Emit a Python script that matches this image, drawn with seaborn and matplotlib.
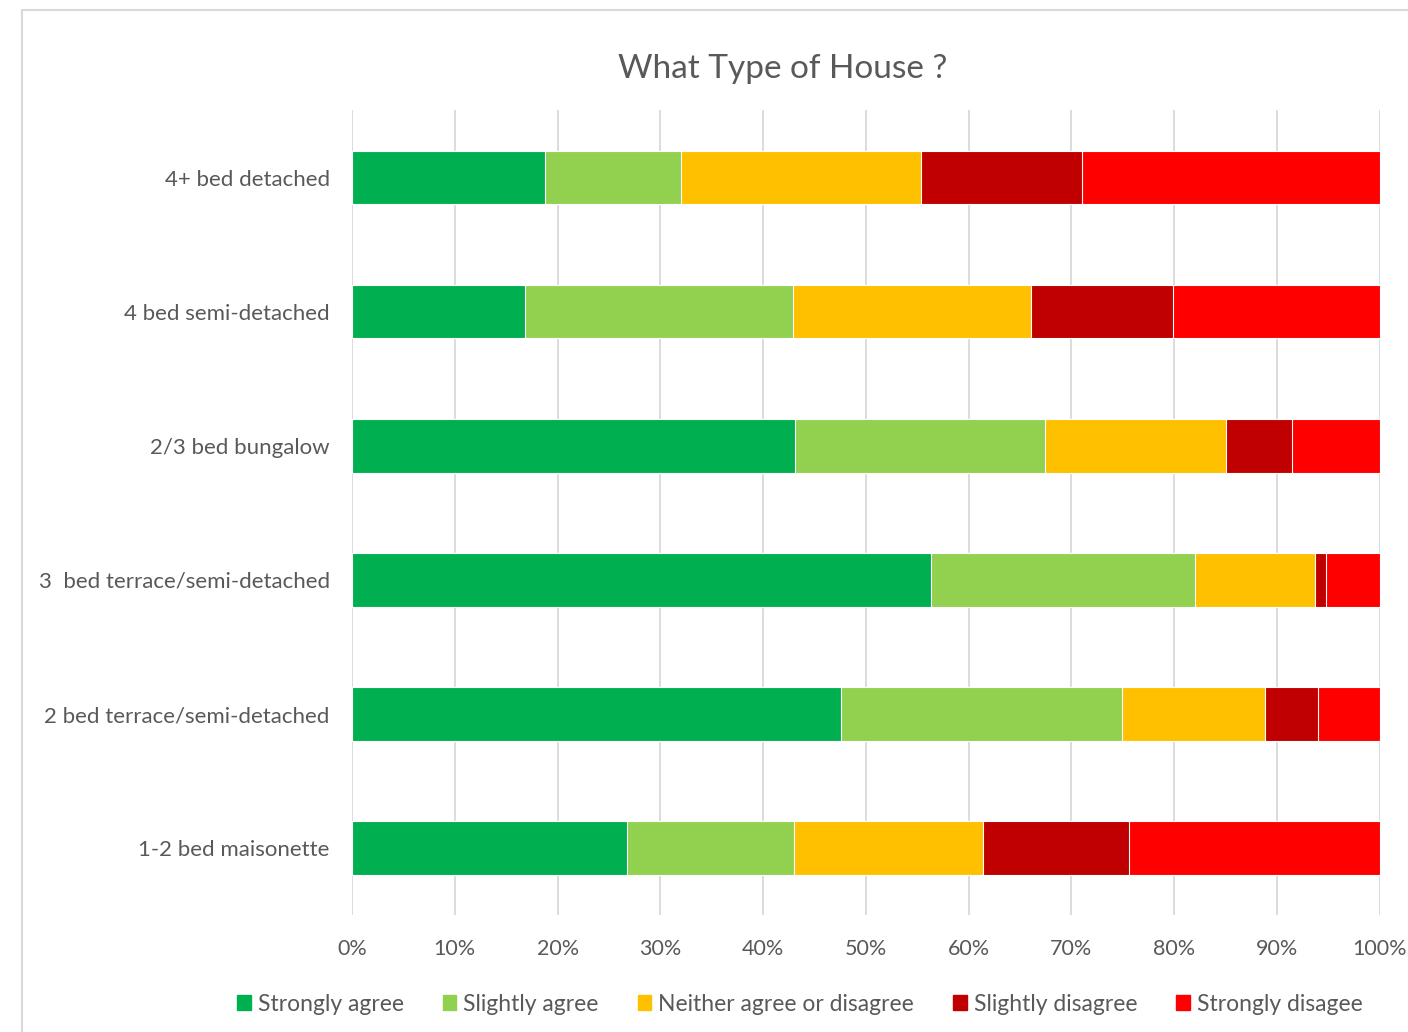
import pandas as pd
import numpy as np
import matplotlib
matplotlib.use("Agg")
import matplotlib.pyplot as plt
import matplotlib.patches as mpatches
import seaborn as sns

# Data (percent of responses)
house_types = ["4+ bed detached", "4 bed semi-detached", "2/3 bed bungalow",
               "3  bed terrace/semi-detached", "2 bed terrace/semi-detached",
               "1-2 bed maisonette"]
responses = ["Strongly agree", "Slightly agree", "Neither agree or disagree",
             "Slightly disagree", "Strongly disagee"]
strongly_agree = [18.8, 16.8, 43.1, 56.3, 47.6, 26.8]
slightly_agree = [13.2, 26.1, 24.3, 25.7, 27.3, 16.2]
neither = [23.4, 23.2, 17.6, 11.7, 13.9, 18.4]
slightly_disagree = [15.6, 13.8, 6.5, 1.1, 5.2, 14.2]
strongly_disagree = [29.0, 20.1, 8.5, 5.2, 6.0, 24.4]

colors = ["#00B050", "#92D050", "#FFC000", "#C00000", "#FF0000"]

df = pd.DataFrame({
    "House": house_types,
    responses[0]: strongly_agree,
    responses[1]: slightly_agree,
    responses[2]: neither,
    responses[3]: slightly_disagree,
    responses[4]: strongly_disagree,
})
# normalise to 100% and build cumulative columns for stacking
vals = df[responses].div(df[responses].sum(axis=1), axis=0) * 100
cum = vals.cumsum(axis=1)

sns.set_style("white")
plt.rcParams["font.family"] = ["Lato", "DejaVu Sans"]
text_col = "#595959"

fig = plt.figure(figsize=(14.08, 10.32), dpi=100)
ax = fig.add_axes([0.25, 0.113, 0.73, 0.78])

# draw from the last cumulative to the first so each layer shows
for resp, col in reversed(list(zip(responses, colors))):
    sns.barplot(x=cum[resp], y=df["House"], orient="h", color=col,
                saturation=1, width=0.4, edgecolor="white", linewidth=0.8,
                ax=ax, zorder=3)

ax.set_xlim(0, 100)
ax.set_ylim(5.5, -0.5)
ax.set_xticks(np.arange(0, 101, 10))
ax.set_xticklabels([f"{t}%" for t in range(0, 101, 10)])
ax.xaxis.grid(True, color="#d9d9d9", linewidth=1.3, zorder=0)
ax.set_axisbelow(True)
ax.set_xlabel("")
ax.set_ylabel("")
for s in ax.spines.values():
    s.set_visible(False)
ax.tick_params(axis="both", length=0, colors=text_col)
ax.tick_params(axis="y", labelsize=16, pad=16)
ax.tick_params(axis="x", labelsize=15.5, pad=17)

fig.text(0.556, 0.933, "What Type of House ?", ha="center", va="center",
         fontsize=24, color=text_col)

handles = [mpatches.Patch(color=c, label=r) for r, c in zip(responses, colors)]
fig.legend(handles=handles, loc="center", bbox_to_anchor=(0.568, 0.027),
           ncol=5, frameon=False, fontsize=16.5, handlelength=0.6,
           handleheight=0.6, handletextpad=0.3, columnspacing=1.7,
           labelcolor=text_col)

# outer chart frame
frame = mpatches.Rectangle((22 / 1408, -0.1), 1.2, 1.1 - 10 / 1032,
                           transform=fig.transFigure, fill=False,
                           edgecolor="#d9d9d9", linewidth=1.5)
fig.patches.append(frame)

fig.savefig("out.png", dpi=100)
